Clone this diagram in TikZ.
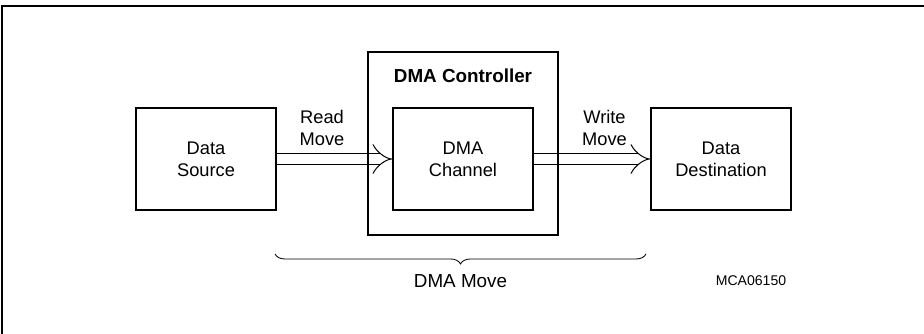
\documentclass[tikz,border=0pt]{standalone}
\usepackage{fontspec}
\setmainfont{Liberation Sans}
\usetikzlibrary{arrows.meta,positioning,fit,backgrounds,calc,decorations.pathreplacing}

\begin{document}
\begin{tikzpicture}[
  font=\fontsize{13}{15.6}\selectfont,
  b/.style={draw, line width=1.4pt, align=center, inner sep=0pt,
            minimum width=3.5cm, minimum height=2.55cm},
  mv/.style={double, double distance=7pt, line width=0.7pt, -{Implies}},
  lbl/.style={align=center, inner sep=0pt},
]
\useasboundingbox (0,0) rectangle (23.1,-8.35);
\draw[line width=1pt] (0.05,-8.4) -- (0.05,-0.15) -- (23.2,-0.15);
\node[b] (chan) at (11.575,-3.975) {DMA\\Channel};
\node[b, left=2.875cm of chan] (src) {Data\\Source};
\node[b, right=2.9cm of chan] (dest) {Data\\Destination};
\coordinate[above=0.775cm of chan.north] (ctop);
\node[draw, line width=1.4pt, fit=(chan)(ctop), inner sep=0.6cm] (ctrl) {};
\node[lbl, font=\bfseries\fontsize{13.4}{15}\selectfont] (title) at (ctop) {DMA Controller};
\node[lbl] (rdlbl) at ($(src.east)!0.5!(src.east -| ctrl.west)+(0,0.775)$) {Read\\Move};
\node[lbl] (wrlbl) at ($(dest.west)!0.5!(dest.west -| ctrl.east)+(0,0.775)$) {Write\\Move};
\begin{scope}[on background layer]
  \draw[mv] (src) -- (chan);
  \draw[mv] (chan) -- (dest);
\end{scope}
\coordinate (brl) at ($(src.south east)+(-0.05,-1.075)$);
\coordinate (brr) at ($(dest.south west)+(-0.1,-1.075)$);
\draw[decorate, decoration={brace, mirror, amplitude=0.25cm}, line width=0.6pt] (brl) -- (brr);
\node[lbl, font=\fontsize{13.4}{15}\selectfont] (dmamv) at ($(brl)!0.5!(brr)+(0,-0.675)$) {DMA Move};
\node[lbl, font=\fontsize{10}{12}\selectfont] (code) at (18.775,-7.025) {MCA06150};
\end{tikzpicture}
\end{document}
